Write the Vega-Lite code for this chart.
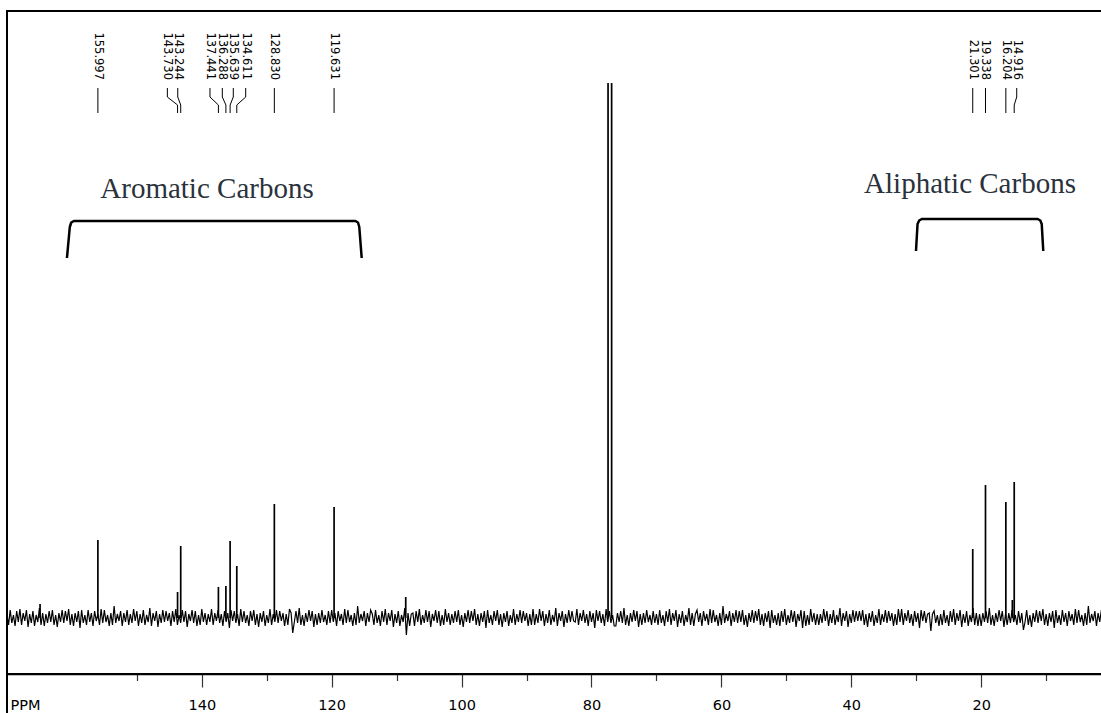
{
"$schema": "https://vega.github.io/schema/vega-lite/v6.json",
"width": 1095, "height": 663,
"autosize": "none",
"padding": {"left": 7, "top": 11, "right": 0, "bottom": 39},
"background": "white",
"config": {"view": {"stroke": "#000", "strokeWidth": 2}},
"datasets": {
"noise": [
{"p":170,"i":4},{"p":169.75,"i":-7},{"p":169.5,"i":8},{"p":169.25,"i":-5},{"p":169,"i":3},{"p":168.75,"i":-8},{"p":168.5,"i":7},{"p":168.25,"i":-4},{"p":168,"i":9},{"p":167.75,"i":-7},{"p":167.5,"i":5},{"p":167.25,"i":-3},{"p":167,"i":8},{"p":166.75,"i":-9},{"p":166.5,"i":4},{"p":166.25,"i":-5},{"p":166,"i":7},{"p":165.75,"i":-8},{"p":165.5,"i":3},{"p":165.25,"i":-4},{"p":165,"i":10},{"p":164.75,"i":-7},{"p":164.5,"i":5},{"p":164.25,"i":-8},{"p":164,"i":4},
{"p":163.75,"i":-5},{"p":163.5,"i":7},{"p":163.25,"i":-4},{"p":163,"i":8},{"p":162.75,"i":-7},{"p":162.5,"i":3},{"p":162.25,"i":-9},{"p":162,"i":5},{"p":161.75,"i":-4},{"p":161.5,"i":8},{"p":161.25,"i":-5},{"p":161,"i":7},{"p":160.75,"i":-3},{"p":160.5,"i":9},{"p":160.25,"i":-7},{"p":160,"i":4},{"p":159.75,"i":-8},{"p":159.5,"i":5},{"p":159.25,"i":-4},{"p":159,"i":7},{"p":158.75,"i":-10},{"p":158.5,"i":8},{"p":158.25,"i":-5},{"p":158,"i":3},{"p":157.75,"i":-7},
{"p":157.5,"i":8},{"p":157.25,"i":-4},{"p":157,"i":5},{"p":156.75,"i":-8},{"p":156.5,"i":7},{"p":156.25,"i":-3},{"p":156,"i":4},{"p":155.75,"i":-7},{"p":155.5,"i":9},{"p":155.25,"i":-5},{"p":155,"i":8},{"p":154.75,"i":-4},{"p":154.5,"i":3},{"p":154.25,"i":-8},{"p":154,"i":5},{"p":153.75,"i":-7},{"p":153.5,"i":12},{"p":153.25,"i":-5},{"p":153,"i":4},{"p":152.75,"i":-3},{"p":152.5,"i":7},{"p":152.25,"i":-8},{"p":152,"i":5},{"p":151.75,"i":-4},{"p":151.5,"i":8},
{"p":151.25,"i":-7},{"p":151,"i":4},{"p":150.75,"i":-5},{"p":150.5,"i":9},{"p":150.25,"i":-3},{"p":150,"i":7},{"p":149.75,"i":-8},{"p":149.5,"i":4},{"p":149.25,"i":-5},{"p":149,"i":8},{"p":148.75,"i":-7},{"p":148.5,"i":3},{"p":148.25,"i":-4},{"p":148,"i":10},{"p":147.75,"i":-8},{"p":147.5,"i":5},{"p":147.25,"i":-3},{"p":147,"i":7},{"p":146.75,"i":-9},{"p":146.5,"i":4},{"p":146.25,"i":-5},{"p":146,"i":8},{"p":145.75,"i":-4},{"p":145.5,"i":7},{"p":145.25,"i":-3},
{"p":145,"i":5},{"p":144.75,"i":-8},{"p":144.5,"i":7},{"p":144.25,"i":-4},{"p":144,"i":9},{"p":143.75,"i":-7},{"p":143.5,"i":3},{"p":143.25,"i":-5},{"p":143,"i":8},{"p":142.75,"i":-4},{"p":142.5,"i":7},{"p":142.25,"i":-9},{"p":142,"i":4},{"p":141.75,"i":-3},{"p":141.5,"i":8},{"p":141.25,"i":-5},{"p":141,"i":7},{"p":140.75,"i":-8},{"p":140.5,"i":3},{"p":140.25,"i":-7},{"p":140,"i":9},{"p":139.75,"i":-4},{"p":139.5,"i":5},{"p":139.25,"i":-7},{"p":139,"i":4},
{"p":138.75,"i":-4},{"p":138.5,"i":9},{"p":138.25,"i":-7},{"p":138,"i":5},{"p":137.75,"i":-3},{"p":137.5,"i":8},{"p":137.25,"i":-5},{"p":137,"i":4},{"p":136.75,"i":-8},{"p":136.5,"i":7},{"p":136.25,"i":-4},{"p":136,"i":5},{"p":135.75,"i":-10},{"p":135.5,"i":8},{"p":135.25,"i":-3},{"p":135,"i":7},{"p":134.75,"i":-5},{"p":134.5,"i":4},{"p":134.25,"i":-8},{"p":134,"i":9},{"p":133.75,"i":-4},{"p":133.5,"i":7},{"p":133.25,"i":-5},{"p":133,"i":3},{"p":132.75,"i":-8},
{"p":132.5,"i":7},{"p":132.25,"i":-3},{"p":132,"i":8},{"p":131.75,"i":-7},{"p":131.5,"i":4},{"p":131.25,"i":-9},{"p":131,"i":5},{"p":130.75,"i":-4},{"p":130.5,"i":7},{"p":130.25,"i":-8},{"p":130,"i":3},{"p":129.75,"i":-5},{"p":129.5,"i":9},{"p":129.25,"i":-7},{"p":129,"i":4},{"p":128.75,"i":-4},{"p":128.5,"i":8},{"p":128.25,"i":-5},{"p":128,"i":7},{"p":127.75,"i":-3},{"p":127.5,"i":5},{"p":127.25,"i":-8},{"p":127,"i":4},{"p":126.75,"i":-7},{"p":126.5,"i":9},
{"p":126.25,"i":5},{"p":126,"i":-15},{"p":125.75,"i":-4},{"p":125.5,"i":7},{"p":125.25,"i":-5},{"p":125,"i":10},{"p":124.75,"i":-7},{"p":124.5,"i":3},{"p":124.25,"i":-8},{"p":124,"i":5},{"p":123.75,"i":-4},{"p":123.5,"i":8},{"p":123.25,"i":-3},{"p":123,"i":7},{"p":122.75,"i":-9},{"p":122.5,"i":4},{"p":122.25,"i":-7},{"p":122,"i":5},{"p":121.75,"i":-5},{"p":121.5,"i":8},{"p":121.25,"i":-4},{"p":121,"i":3},{"p":120.75,"i":-7},{"p":120.5,"i":7},{"p":120.25,"i":-5},
{"p":120,"i":8},{"p":119.75,"i":-4},{"p":119.5,"i":5},{"p":119.25,"i":-8},{"p":119,"i":7},{"p":118.75,"i":-3},{"p":118.5,"i":4},{"p":118.25,"i":-7},{"p":118,"i":9},{"p":117.75,"i":-5},{"p":117.5,"i":8},{"p":117.25,"i":-4},{"p":117,"i":3},{"p":116.75,"i":-8},{"p":116.5,"i":5},{"p":116.25,"i":-7},{"p":116,"i":12},{"p":115.75,"i":-5},{"p":115.5,"i":4},{"p":115.25,"i":-3},{"p":115,"i":7},{"p":114.75,"i":-8},{"p":114.5,"i":5},{"p":114.25,"i":-4},{"p":114,"i":8},
{"p":113.75,"i":4},{"p":113.5,"i":-7},{"p":113.25,"i":8},{"p":113,"i":-5},{"p":112.75,"i":3},{"p":112.5,"i":-8},{"p":112.25,"i":7},{"p":112,"i":-4},{"p":111.75,"i":9},{"p":111.5,"i":-7},{"p":111.25,"i":5},{"p":111,"i":-3},{"p":110.75,"i":8},{"p":110.5,"i":-9},{"p":110.25,"i":4},{"p":110,"i":-5},{"p":109.75,"i":7},{"p":109.5,"i":-8},{"p":109.25,"i":3},{"p":109,"i":-4},{"p":108.75,"i":10},{"p":108.5,"i":-17},{"p":108.25,"i":5},{"p":108,"i":-8},{"p":107.75,"i":4},
{"p":107.5,"i":5},{"p":107.25,"i":-8},{"p":107,"i":7},{"p":106.75,"i":-4},{"p":106.5,"i":9},{"p":106.25,"i":-7},{"p":106,"i":3},{"p":105.75,"i":-5},{"p":105.5,"i":8},{"p":105.25,"i":-4},{"p":105,"i":7},{"p":104.75,"i":-9},{"p":104.5,"i":4},{"p":104.25,"i":-3},{"p":104,"i":8},{"p":103.75,"i":-5},{"p":103.5,"i":7},{"p":103.25,"i":-8},{"p":103,"i":3},{"p":102.75,"i":-7},{"p":102.5,"i":9},{"p":102.25,"i":-4},{"p":102,"i":5},{"p":101.75,"i":-7},{"p":101.5,"i":4},
{"p":101.25,"i":-5},{"p":101,"i":7},{"p":100.75,"i":-4},{"p":100.5,"i":8},{"p":100.25,"i":-7},{"p":100,"i":3},{"p":99.75,"i":-9},{"p":99.5,"i":5},{"p":99.25,"i":-4},{"p":99,"i":8},{"p":98.75,"i":-5},{"p":98.5,"i":7},{"p":98.25,"i":-3},{"p":98,"i":9},{"p":97.75,"i":-7},{"p":97.5,"i":4},{"p":97.25,"i":-8},{"p":97,"i":5},{"p":96.75,"i":-4},{"p":96.5,"i":7},{"p":96.25,"i":-10},{"p":96,"i":8},{"p":95.75,"i":-5},{"p":95.5,"i":3},{"p":95.25,"i":-7},
{"p":95,"i":7},{"p":94.75,"i":-3},{"p":94.5,"i":8},{"p":94.25,"i":-7},{"p":94,"i":4},{"p":93.75,"i":-9},{"p":93.5,"i":5},{"p":93.25,"i":-4},{"p":93,"i":7},{"p":92.75,"i":-8},{"p":92.5,"i":3},{"p":92.25,"i":-5},{"p":92,"i":9},{"p":91.75,"i":-7},{"p":91.5,"i":4},{"p":91.25,"i":-4},{"p":91,"i":8},{"p":90.75,"i":-5},{"p":90.5,"i":7},{"p":90.25,"i":-3},{"p":90,"i":5},{"p":89.75,"i":-8},{"p":89.5,"i":4},{"p":89.25,"i":-7},{"p":89,"i":9},
{"p":88.75,"i":-7},{"p":88.5,"i":4},{"p":88.25,"i":-5},{"p":88,"i":9},{"p":87.75,"i":-3},{"p":87.5,"i":7},{"p":87.25,"i":-8},{"p":87,"i":4},{"p":86.75,"i":-5},{"p":86.5,"i":8},{"p":86.25,"i":-7},{"p":86,"i":3},{"p":85.75,"i":-4},{"p":85.5,"i":10},{"p":85.25,"i":-8},{"p":85,"i":5},{"p":84.75,"i":-3},{"p":84.5,"i":7},{"p":84.25,"i":-9},{"p":84,"i":4},{"p":83.75,"i":-5},{"p":83.5,"i":8},{"p":83.25,"i":-4},{"p":83,"i":7},{"p":82.75,"i":-3},
{"p":82.5,"i":-4},{"p":82.25,"i":9},{"p":82,"i":-7},{"p":81.75,"i":5},{"p":81.5,"i":-3},{"p":81.25,"i":8},{"p":81,"i":-5},{"p":80.75,"i":4},{"p":80.5,"i":-8},{"p":80.25,"i":7},{"p":80,"i":-4},{"p":79.75,"i":5},{"p":79.5,"i":-10},{"p":79.25,"i":8},{"p":79,"i":-3},{"p":78.75,"i":7},{"p":78.5,"i":-5},{"p":78.25,"i":4},{"p":78,"i":-8},{"p":77.75,"i":9},{"p":77.5,"i":-4},{"p":77.25,"i":7},{"p":77,"i":-5},{"p":76.75,"i":3},{"p":76.5,"i":-8},
{"p":76.25,"i":-8},{"p":76,"i":5},{"p":75.75,"i":-4},{"p":75.5,"i":7},{"p":75.25,"i":-5},{"p":75,"i":10},{"p":74.75,"i":-7},{"p":74.5,"i":3},{"p":74.25,"i":-8},{"p":74,"i":5},{"p":73.75,"i":-4},{"p":73.5,"i":8},{"p":73.25,"i":-3},{"p":73,"i":7},{"p":72.75,"i":-9},{"p":72.5,"i":4},{"p":72.25,"i":-7},{"p":72,"i":5},{"p":71.75,"i":-5},{"p":71.5,"i":8},{"p":71.25,"i":-4},{"p":71,"i":3},{"p":70.75,"i":-7},{"p":70.5,"i":7},{"p":70.25,"i":-5},
{"p":70,"i":4},{"p":69.75,"i":-7},{"p":69.5,"i":8},{"p":69.25,"i":-5},{"p":69,"i":3},{"p":68.75,"i":-8},{"p":68.5,"i":7},{"p":68.25,"i":-4},{"p":68,"i":9},{"p":67.75,"i":-7},{"p":67.5,"i":5},{"p":67.25,"i":-3},{"p":67,"i":8},{"p":66.75,"i":-9},{"p":66.5,"i":4},{"p":66.25,"i":-5},{"p":66,"i":7},{"p":65.75,"i":-8},{"p":65.5,"i":3},{"p":65.25,"i":-4},{"p":65,"i":10},{"p":64.75,"i":-7},{"p":64.5,"i":5},{"p":64.25,"i":-8},{"p":64,"i":4},
{"p":63.75,"i":8},{"p":63.5,"i":-4},{"p":63.25,"i":5},{"p":63,"i":-8},{"p":62.75,"i":7},{"p":62.5,"i":-3},{"p":62.25,"i":4},{"p":62,"i":-7},{"p":61.75,"i":9},{"p":61.5,"i":-5},{"p":61.25,"i":8},{"p":61,"i":-4},{"p":60.75,"i":3},{"p":60.5,"i":-8},{"p":60.25,"i":5},{"p":60,"i":-7},{"p":59.75,"i":12},{"p":59.5,"i":-5},{"p":59.25,"i":4},{"p":59,"i":-3},{"p":58.75,"i":7},{"p":58.5,"i":-8},{"p":58.25,"i":5},{"p":58,"i":-4},{"p":57.75,"i":8},
{"p":57.5,"i":-5},{"p":57.25,"i":7},{"p":57,"i":-4},{"p":56.75,"i":8},{"p":56.5,"i":-7},{"p":56.25,"i":3},{"p":56,"i":-9},{"p":55.75,"i":5},{"p":55.5,"i":-4},{"p":55.25,"i":8},{"p":55,"i":-5},{"p":54.75,"i":7},{"p":54.5,"i":-3},{"p":54.25,"i":9},{"p":54,"i":-7},{"p":53.75,"i":4},{"p":53.5,"i":-8},{"p":53.25,"i":5},{"p":53,"i":-4},{"p":52.75,"i":7},{"p":52.5,"i":-10},{"p":52.25,"i":8},{"p":52,"i":-5},{"p":51.75,"i":3},{"p":51.5,"i":-7},
{"p":51.25,"i":5},{"p":51,"i":-8},{"p":50.75,"i":7},{"p":50.5,"i":-4},{"p":50.25,"i":9},{"p":50,"i":-7},{"p":49.75,"i":3},{"p":49.5,"i":-5},{"p":49.25,"i":8},{"p":49,"i":-4},{"p":48.75,"i":7},{"p":48.5,"i":-9},{"p":48.25,"i":4},{"p":48,"i":-3},{"p":47.75,"i":8},{"p":47.5,"i":-10},{"p":47.25,"i":7},{"p":47,"i":-8},{"p":46.75,"i":3},{"p":46.5,"i":-7},{"p":46.25,"i":9},{"p":46,"i":-4},{"p":45.75,"i":5},{"p":45.5,"i":-7},{"p":45.25,"i":4},
{"p":45,"i":-7},{"p":44.75,"i":4},{"p":44.5,"i":-5},{"p":44.25,"i":9},{"p":44,"i":-3},{"p":43.75,"i":7},{"p":43.5,"i":-8},{"p":43.25,"i":4},{"p":43,"i":-5},{"p":42.75,"i":8},{"p":42.5,"i":-7},{"p":42.25,"i":3},{"p":42,"i":-4},{"p":41.75,"i":10},{"p":41.5,"i":-8},{"p":41.25,"i":5},{"p":41,"i":-3},{"p":40.75,"i":7},{"p":40.5,"i":-9},{"p":40.25,"i":4},{"p":40,"i":-5},{"p":39.75,"i":8},{"p":39.5,"i":-4},{"p":39.25,"i":7},{"p":39,"i":-3},
{"p":38.75,"i":7},{"p":38.5,"i":-3},{"p":38.25,"i":8},{"p":38,"i":-7},{"p":37.75,"i":4},{"p":37.5,"i":-9},{"p":37.25,"i":5},{"p":37,"i":-4},{"p":36.75,"i":7},{"p":36.5,"i":-8},{"p":36.25,"i":3},{"p":36,"i":-5},{"p":35.75,"i":9},{"p":35.5,"i":-7},{"p":35.25,"i":4},{"p":35,"i":-4},{"p":34.75,"i":8},{"p":34.5,"i":-5},{"p":34.25,"i":7},{"p":34,"i":-3},{"p":33.75,"i":5},{"p":33.5,"i":-8},{"p":33.25,"i":4},{"p":33,"i":-7},{"p":32.75,"i":9},
{"p":32.5,"i":-4},{"p":32.25,"i":9},{"p":32,"i":-7},{"p":31.75,"i":5},{"p":31.5,"i":-3},{"p":31.25,"i":8},{"p":31,"i":-5},{"p":30.75,"i":4},{"p":30.5,"i":-8},{"p":30.25,"i":7},{"p":30,"i":-4},{"p":29.75,"i":5},{"p":29.5,"i":-10},{"p":29.25,"i":8},{"p":29,"i":-3},{"p":28.75,"i":7},{"p":28.5,"i":-5},{"p":28.25,"i":4},{"p":28,"i":5},{"p":27.75,"i":-13},{"p":27.5,"i":4},{"p":27.25,"i":7},{"p":27,"i":-5},{"p":26.75,"i":3},{"p":26.5,"i":-8},
{"p":26.25,"i":4},{"p":26,"i":-7},{"p":25.75,"i":8},{"p":25.5,"i":-5},{"p":25.25,"i":3},{"p":25,"i":-8},{"p":24.75,"i":7},{"p":24.5,"i":-4},{"p":24.25,"i":9},{"p":24,"i":-7},{"p":23.75,"i":5},{"p":23.5,"i":-3},{"p":23.25,"i":8},{"p":23,"i":-9},{"p":22.75,"i":4},{"p":22.5,"i":-5},{"p":22.25,"i":7},{"p":22,"i":-8},{"p":21.75,"i":3},{"p":21.5,"i":-4},{"p":21.25,"i":10},{"p":21,"i":-7},{"p":20.75,"i":5},{"p":20.5,"i":-8},{"p":20.25,"i":4},
{"p":20,"i":-8},{"p":19.75,"i":5},{"p":19.5,"i":-4},{"p":19.25,"i":7},{"p":19,"i":-5},{"p":18.75,"i":10},{"p":18.5,"i":-7},{"p":18.25,"i":3},{"p":18,"i":-8},{"p":17.75,"i":5},{"p":17.5,"i":-4},{"p":17.25,"i":8},{"p":17,"i":-3},{"p":16.75,"i":7},{"p":16.5,"i":-9},{"p":16.25,"i":4},{"p":16,"i":-7},{"p":15.75,"i":5},{"p":15.5,"i":-5},{"p":15.25,"i":8},{"p":15,"i":-4},{"p":14.75,"i":3},{"p":14.5,"i":-7},{"p":14.25,"i":7},{"p":14,"i":-5},
{"p":13.75,"i":5},{"p":13.5,"i":-12},{"p":13.25,"i":-4},{"p":13,"i":8},{"p":12.75,"i":-7},{"p":12.5,"i":3},{"p":12.25,"i":-9},{"p":12,"i":5},{"p":11.75,"i":-4},{"p":11.5,"i":8},{"p":11.25,"i":-5},{"p":11,"i":7},{"p":10.75,"i":-3},{"p":10.5,"i":9},{"p":10.25,"i":-7},{"p":10,"i":4},{"p":9.75,"i":-8},{"p":9.5,"i":5},{"p":9.25,"i":-4},{"p":9,"i":7},{"p":8.75,"i":-10},{"p":8.5,"i":8},{"p":8.25,"i":-5},{"p":8,"i":3},{"p":7.75,"i":-7},
{"p":7.5,"i":8},{"p":7.25,"i":-4},{"p":7,"i":5},{"p":6.75,"i":-8},{"p":6.5,"i":7},{"p":6.25,"i":-3},{"p":6,"i":4},{"p":5.75,"i":-7},{"p":5.5,"i":9},{"p":5.25,"i":-5},{"p":5,"i":8},{"p":4.75,"i":-4},{"p":4.5,"i":3},{"p":4.25,"i":-8},{"p":4,"i":5},{"p":3.75,"i":-7},{"p":3.5,"i":12},{"p":3.25,"i":-5},{"p":3,"i":4},{"p":2.75,"i":-3},{"p":2.5,"i":7},{"p":2.25,"i":-8},{"p":2,"i":5},{"p":1.75,"i":-4},{"p":1.5,"i":8}
],
"peaks": [
{"p":164.9,"h":14},{"p":155.997,"h":78},{"p":143.73,"h":26},{"p":143.244,"h":72},{"p":137.441,"h":31},{"p":136.288,"h":32},{"p":135.639,"h":77},{"p":134.611,"h":52},{"p":128.83,"h":114},{"p":119.631,"h":111},{"p":108.6,"h":21},{"p":77.45,"h":535},{"p":76.9,"h":535},{"p":21.301,"h":69},{"p":19.338,"h":133},{"p":16.204,"h":116},{"p":15.2,"h":18},{"p":14.916,"h":136}
],
"labels": [
{"t":"155.997","pk":155.997,"lp":155.997},
{"t":"143.730","pk":143.73,"lp":145.3},
{"t":"143.244","pk":143.244,"lp":143.7},
{"t":"137.441","pk":137.441,"lp":138.74},
{"t":"136.288","pk":136.288,"lp":136.84},
{"t":"135.639","pk":135.639,"lp":135.15},
{"t":"134.611","pk":134.611,"lp":133.24},
{"t":"128.830","pk":128.83,"lp":128.83},
{"t":"119.631","pk":119.631,"lp":119.631},
{"t":"21.301","pk":21.301,"lp":21.301},
{"t":"19.338","pk":19.338,"lp":19.338},
{"t":"16.204","pk":16.204,"lp":16.204},
{"t":"14.916","pk":14.916,"lp":14.53}
],
"brackets": [
{"g":"arom","o":0,"p":160.76,"i":360},{"g":"arom","o":1,"p":160.32,"i":391},{"g":"arom","o":2,"p":160.1,"i":395.5},{"g":"arom","o":3,"p":159.7,"i":397},{"g":"arom","o":4,"p":116.35,"i":397},{"g":"arom","o":5,"p":115.95,"i":395.5},{"g":"arom","o":6,"p":115.75,"i":391},{"g":"arom","o":7,"p":115.38,"i":360},
{"g":"aliph","o":0,"p":30.04,"i":367},{"g":"aliph","o":1,"p":29.8,"i":394},{"g":"aliph","o":2,"p":29.55,"i":397.5},{"g":"aliph","o":3,"p":29.15,"i":399},{"g":"aliph","o":4,"p":11.3,"i":399},{"g":"aliph","o":5,"p":10.9,"i":397.5},{"g":"aliph","o":6,"p":10.68,"i":394},{"g":"aliph","o":7,"p":10.44,"i":367}
],
"notes": [
{"t":"Aromatic Carbons","p":139.2,"i":420},
{"t":"Aliphatic Carbons","p":21.72,"i":425}
],
"frame": [{"p":169.99}]
},
"layer": [
{
"data": {"name": "noise"},
"mark": {"type": "line", "color": "black", "strokeWidth": 1.2, "clip": true},
"encoding": {
"x": {"field": "p", "type": "quantitative",
"scale": {"domain": [1.40, 169.99], "reverse": true, "nice": false, "zero": false},
"axis": {
"values": [150,140,130,120,110,100,90,80,70,60,50,40,30,20,10],
"title": "PPM", "titleAnchor": "start", "titleAlign": "left", "titleBaseline": "alphabetic",
"titleX": 3, "titleY": 35, "titleFont": "DejaVu Sans", "titleFontSize": 14.5, "titleFontWeight": "normal", "titleColor": "black",
"grid": false,
"domainColor": "black", "domainWidth": 1.3,
"tickColor": "#333", "tickWidth": 1.2, "tickSize": 13,
"tickDash": {"condition": {"test": "datum.value % 20 !== 0", "value": [6.5, 30]}, "value": [13, 0]},
"labelExpr": "datum.value % 20 === 0 ? datum.label : ''",
"labelFont": "DejaVu Sans", "labelFontSize": 14.5, "labelColor": "black",
"labelBaseline": "alphabetic", "labelPadding": 22, "labelFlush": false, "labelOverlap": false
}},
"y": {"field": "i", "type": "quantitative", "scale": {"domain": [-56, 607], "nice": false, "zero": false}, "axis": null}
}
},
{
"data": {"name": "frame"},
"mark": {"type": "rule", "color": "black", "strokeWidth": 2, "clip": false},
"encoding": {
"x": {"field": "p", "type": "quantitative"},
"y": {"datum": -56, "type": "quantitative", "axis": null},
"y2": {"datum": -100}
}
},
{
"data": {"name": "peaks"},
"mark": {"type": "rule", "color": "black", "strokeWidth": 1.7, "clip": true},
"encoding": {
"x": {"field": "p", "type": "quantitative"},
"y": {"field": "h", "type": "quantitative", "axis": null},
"y2": {"datum": 0}
}
},
{
"data": {"name": "labels"},
"mark": {"type": "rule", "color": "black", "strokeWidth": 1},
"encoding": {
"x": {"field": "lp", "type": "quantitative"},
"y": {"datum": 530, "type": "quantitative", "axis": null},
"y2": {"datum": 521}
}
},
{
"data": {"name": "labels"},
"mark": {"type": "rule", "color": "black", "strokeWidth": 1},
"encoding": {
"x": {"field": "lp", "type": "quantitative"},
"x2": {"field": "pk"},
"y": {"datum": 521, "type": "quantitative", "axis": null},
"y2": {"datum": 513}
}
},
{
"data": {"name": "labels"},
"mark": {"type": "rule", "color": "black", "strokeWidth": 1},
"encoding": {
"x": {"field": "pk", "type": "quantitative"},
"y": {"datum": 513, "type": "quantitative", "axis": null},
"y2": {"datum": 505}
}
},
{
"data": {"name": "labels"},
"mark": {"type": "text", "angle": 90, "align": "right", "baseline": "middle", "font": "DejaVu Sans", "fontSize": 11.5, "color": "black"},
"encoding": {
"x": {"field": "lp", "type": "quantitative"},
"y": {"datum": 538, "type": "quantitative", "axis": null},
"text": {"field": "t"}
}
},
{
"data": {"name": "brackets"},
"mark": {"type": "line", "color": "black", "strokeWidth": 2.5, "strokeJoin": "round"},
"encoding": {
"x": {"field": "p", "type": "quantitative"},
"y": {"field": "i", "type": "quantitative", "axis": null},
"detail": {"field": "g"},
"order": {"field": "o"}
}
},
{
"data": {"name": "notes"},
"mark": {"type": "text", "align": "center", "baseline": "alphabetic", "font": "Liberation Serif", "fontSize": 29, "color": "#2a323c"},
"encoding": {
"x": {"field": "p", "type": "quantitative"},
"y": {"field": "i", "type": "quantitative", "axis": null},
"text": {"field": "t"}
}
}
]
}
